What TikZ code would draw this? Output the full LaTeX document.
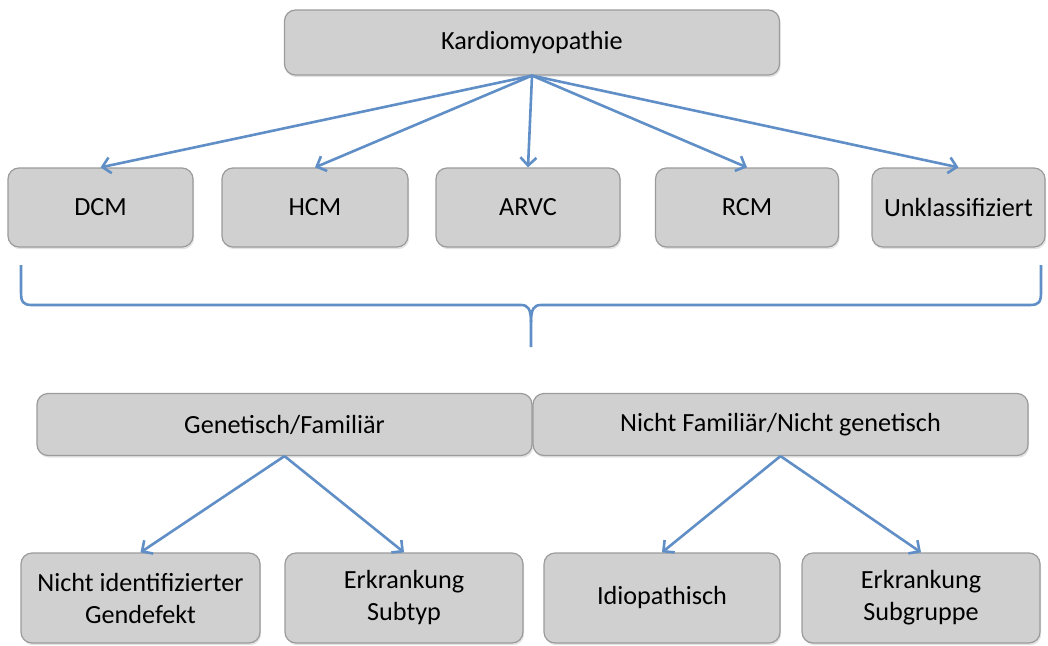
\documentclass[tikz,border=0pt]{standalone}
\usepackage{fontspec}
\setmainfont{Carlito}
\usetikzlibrary{arrows.meta,shadows}
\definecolor{boxgray}{RGB}{208,208,208}
\definecolor{boxline}{RGB}{155,155,155}
\definecolor{arrowblue}{RGB}{96,142,198}
\begin{document}
\begin{tikzpicture}[x=1pt,y=-1pt]
        \tikzstyle{klasse}=[rectangle,rounded corners=11pt,draw=boxline,line width=1.2pt,fill=boxgray,align=center,font=\fontsize{26.2}{32}\selectfont,drop shadow={shadow xshift=1.2pt,shadow yshift=-2.2pt,opacity=0.22}]
        \tikzstyle{edge}=[draw=arrowblue,line width=2.6pt,line join=round,-{Straight Barb[length=8pt,width=16pt]}]
        \tikzstyle{klammer}=[draw=arrowblue,line width=2.6pt]
        \useasboundingbox (0,0) rectangle (1048,645);
       \begin{scope}
         \node [klasse,minimum width=495pt,minimum height=65pt] (km) at (532,42.5) {Kardiomyopathie};

         \node [klasse,minimum width=185pt,minimum height=79pt] (t1) at (100.5,207.5) {DCM};
         \node [klasse,minimum width=186pt,minimum height=79pt] (t2) at (315,207.5) {HCM};
         \node [klasse,minimum width=184pt,minimum height=79pt] (t3) at (528,207.5) {ARVC};
         \node [klasse,minimum width=183pt,minimum height=79pt] (t4) at (747,207.5) {RCM};
         \node [klasse,minimum width=173pt,minimum height=79pt] (t5) at (958.5,207.5) {Unklassifiziert};

         \node [klasse,minimum width=495pt,minimum height=62pt] (g1) at (284.5,424.5) {Genetisch/Familiär};
         \node [klasse,minimum width=495pt,minimum height=62pt] (g2) at (780.5,424.5) {Nicht Familiär/Nicht genetisch};

         \node [klasse,minimum width=239pt,minimum height=90pt] (u1) at (140.5,598) {Nicht identifizierter\\Gendefekt};
         \node [klasse,minimum width=238pt,minimum height=90pt] (u2) at (404,598) {Erkrankung\\Subtyp};
         \node [klasse,minimum width=236pt,minimum height=90pt] (u3) at (662,598) {Idiopathisch};
         \node [klasse,minimum width=238pt,minimum height=90pt] (u4) at (921,598) {Erkrankung\\Subgruppe};

         \path (km.south) edge [edge] (t1.north);
         \path (km.south) edge [edge] (t2.north);
         \path (km.south) edge [edge] (t3.north);
         \path (km.south) edge [edge] (t4.north);
         \path (km.south) edge [edge] (t5.north);

         \path (g1.south) edge [edge] (u1.north);
         \path (g1.south) edge [edge] (u2.north);
         \path (g2.south) edge [edge] (u3.north);
         \path (g2.south) edge [edge] (u4.north);

         % brace between the two rows
         \coordinate (bl) at (21,265);
         \coordinate (br) at (1041,265);
         \coordinate (bs) at (531,347);
         \draw[klammer] (bl) -- (21,292) .. controls (21,302) and (23,305) .. (32,305) -- (521,305) .. controls (528,305) and (531,309) .. (531,322) -- (bs);
         \draw[klammer] (br) -- (1041,292) .. controls (1041,302) and (1039,305) .. (1030,305) -- (541,305) .. controls (534,305) and (531,309) .. (531,322);
        \end{scope}
      \end{tikzpicture}
\end{document}
